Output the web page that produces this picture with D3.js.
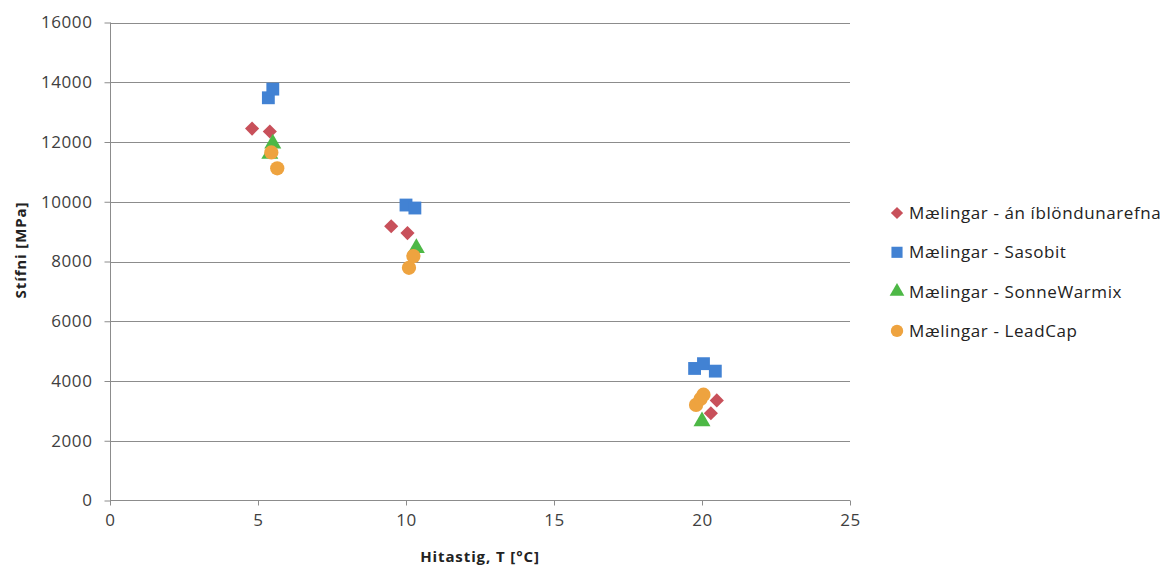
<!DOCTYPE html>
<meta charset="utf-8">
<style>
body { margin: 0; background: #fff; }
text { font-family: "Open Sans", "DejaVu Sans", sans-serif; fill: #404040; }
.tick text { font-size: 17px; letter-spacing: 0.6px; }
.title { font-size: 15px; font-weight: bold; fill: #222; letter-spacing: 0.9px; }
.legend text { font-size: 17px; fill: #222; letter-spacing: 0.6px; }
</style>
<svg width="1166" height="569"></svg>
<script src="https://d3js.org/d3.v7.min.js"></script>
<script>

var seriesNames = ["Mælingar - án íblöndunarefna", "Mælingar - Sasobit", "Mælingar - SonneWarmix", "Mælingar - LeadCap"];
var seriesColors = ["#C8505A", "#4282D3", "#4DB846", "#EEA33F"];

// [hitastig, stifni]
var anIblondunar = [[4.8, 12450], [5.4, 12350], [9.5, 9180], [10.05, 8950], [20.3, 2920], [20.5, 3350]];
var sasobit = [[5.35, 13480], [5.5, 13770], [10.0, 9890], [10.3, 9790], [19.75, 4420], [20.05, 4580], [20.45, 4330]];
var sonneWarmix = [[5.4, 11600], [5.5, 11950], [10.35, 8450], [20.0, 2650]];
var leadCap = [[5.45, 11650], [5.65, 11120], [10.1, 7790], [10.25, 8180], [19.8, 3200], [19.95, 3400], [20.05, 3540]];

var allSeries = [anIblondunar, sasobit, sonneWarmix, leadCap];

var xTicks = [0, 5, 10, 15, 20, 25];
var yTicks = [0, 2000, 4000, 6000, 8000, 10000, 12000, 14000, 16000];

var svg = d3.select("svg");
var pLeft = 110, pRight = 850, pTop = 22.5, pBottom = 500.5;

var x = d3.scaleLinear().domain([0, 25]).range([pLeft, pRight]);
var y = d3.scaleLinear().domain([0, 16000]).range([pBottom, pTop]);

// marker shapes: diamond is a square turned 45 degrees
var markers = [
	{ type: d3.symbolSquare, size: 100, rotate: 45 },
	{ type: d3.symbolSquare, size: 165, rotate: 0 },
	{ type: d3.symbolTriangle, size: 125, rotate: 0 },
	{ type: d3.symbolCircle, size: 160, rotate: 0 }
];

// gridlines
svg.append("g")
	.selectAll("line")
	.data(yTicks.slice(1))
	.enter().append("line")
	  .attr("x1", pLeft).attr("x2", pRight)
	  .attr("y1", function(d) { return Math.round(y(d)) + 0.5; })
	  .attr("y2", function(d) { return Math.round(y(d)) + 0.5; })
	  .attr("stroke", "#8c8c8c");

var yAxis = svg.append("g")
	.attr("transform", "translate(" + (pLeft + 0.5) + ",0)")
	.call(d3.axisLeft(y).tickValues(yTicks).tickSize(6).tickPadding(12).tickFormat(d3.format("d")));

var xAxis = svg.append("g")
	.attr("transform", "translate(0," + pBottom + ")")
	.call(d3.axisBottom(x).tickValues(xTicks).tickSize(6).tickPadding(8));

svg.selectAll(".domain, .tick line").attr("stroke", "#8c8c8c");
xAxis.select(".domain").attr("d", "M" + pLeft + ",0H" + pRight);
yAxis.select(".domain").attr("d", "M0," + pBottom + "V" + pTop);
xAxis.selectAll(".tick line").attr("y1", 0).attr("y2", 5);
xAxis.selectAll(".tick text").attr("dy", "0.7em");

// points
allSeries.forEach(function(data, i) {
	var m = markers[i];
	svg.append("g")
		.selectAll("path")
		.data(data)
		.enter().append("path")
		  .attr("d", d3.symbol().type(m.type).size(m.size))
		  .attr("transform", function(d) { return "translate(" + x(d[0]) + "," + y(d[1]) + ") rotate(" + m.rotate + ")"; })
		  .attr("fill", seriesColors[i]);
});

// axis titles
svg.append("text")
	.attr("class", "title")
	.attr("x", (pLeft + pRight) / 2)
	.attr("y", 562)
	.attr("text-anchor", "middle")
	.text("Hitastig, T [°C]");

svg.append("text")
	.attr("class", "title")
	.attr("transform", "translate(26,250) rotate(-90)")
	.attr("text-anchor", "middle")
	.text("Stífni [MPa]");

// legend
var legend = svg.append("g").attr("class", "legend")
	.selectAll("g")
	.data(seriesNames)
	.enter().append("g")
	  .attr("transform", function(d, i) { return "translate(897," + (213 + i * 39.3) + ")"; });

legend.append("path")
	.attr("d", function(d, i) { return d3.symbol().type(markers[i].type).size(markers[i].size * 0.75)(); })
	.attr("transform", function(d, i) { return "rotate(" + markers[i].rotate + ")"; })
	.attr("fill", function(d, i) { return seriesColors[i]; });

legend.append("text")
	.attr("x", 12)
	.attr("dy", "0.35em")
	.text(function(d) { return d; });

</script>
